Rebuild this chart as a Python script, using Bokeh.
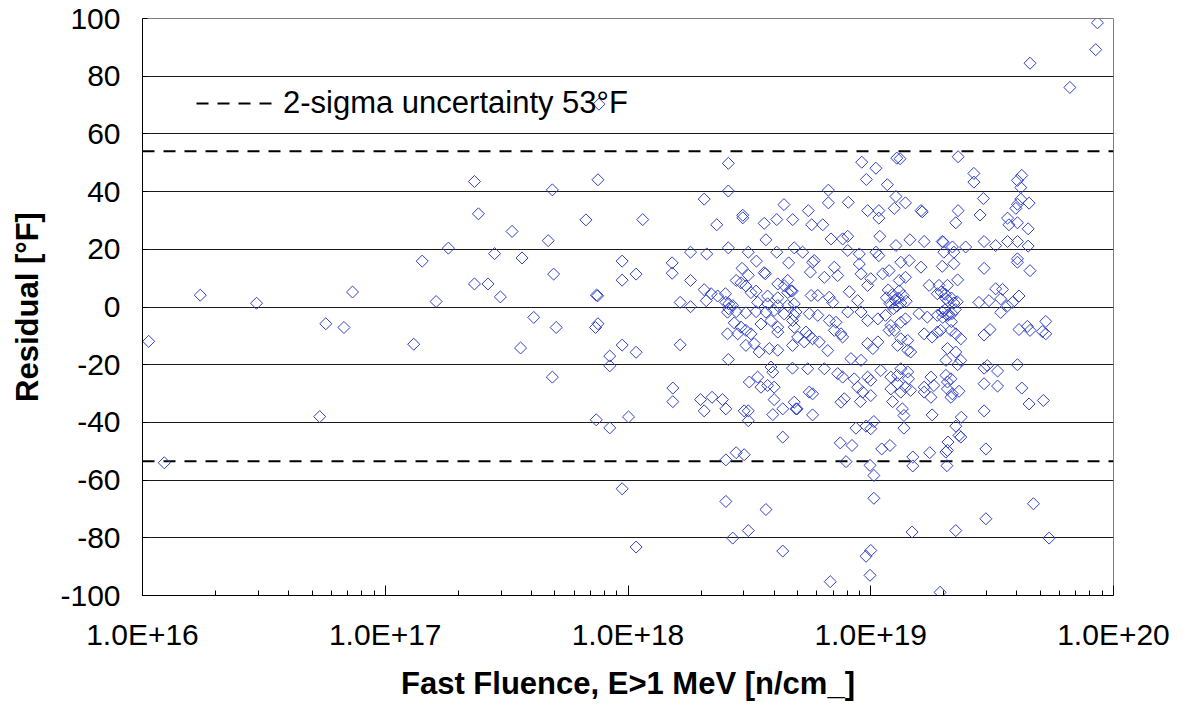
from bokeh.plotting import figure
from bokeh.models import (FixedTicker, CustomJSTickFormatter, Legend, LegendItem,
                          Range1d, ColumnDataSource)
from bokeh.embed import file_html
from bokeh.resources import INLINE

# ---- data: (fast fluence in units of 1e18 n/cm^2, residual in deg F) ----
low_fluence = [
    (0.0106, -11.9), (0.0123, -54.0), (0.0173, 4.1), (0.0295, 1.3), (0.0733, 5.2),
    (0.0569, -5.8), (0.0676, -7.1), (0.0537, -38.0),
    (0.759, 70.3), (0.233, 43.5), (0.488, 40.6), (0.752, 44.1), (0.242, 32.3),
    (0.333, 26.2), (0.469, 23.0), (0.671, 30.2), (0.182, 20.4), (0.142, 15.9),
    (0.282, 18.5), (0.366, 17.0), (0.946, 15.9), (0.494, 11.4), (0.946, 9.3),
    (0.233, 8.0), (0.265, 8.0), (0.162, 1.9), (0.298, 3.5), (0.741, 4.1),
    (0.75, 3.9), (0.131, -12.9), (0.409, -3.6), (0.506, -7.1), (0.735, -7.1),
    (0.752, -5.8), (0.361, -14.2), (0.946, -13.2), (0.841, -17.0), (0.841, -20.4),
    (0.488, -24.3), (0.74, -39.1), (0.841, -41.9), (0.946, -63.0),
]

mid_fluence = [
    (1.005, -38.1), (1.08, 11.4), (1.08, -15.7), (1.08, -83.2), (1.15, 30.3),
    (2.59, 49.8), (2.59, 40.2), (2.06, 37.4), (4.39, 35.5), (2.97, 31.8),
    (2.32, 28.5), (2.97, 30.9), (3.64, 29.0), (4.10, 30.3), (4.77, 30.3),
    (3.7, 23.3), (1.81, 19.0), (2.11, 18.4), (2.59, 20.5), (3.13, 19.0),
    (3.38, 15.9), (4.10, 19.0), (4.84, 20.5), (1.52, 15.3), (1.52, 11.7),
    (1.81, 9.2), (4.59, 15.3), (2.95, 13.4), (3.64, 11.9), (3.68, 11.5),
    (3.13, 11.0), (2.79, 9.2), (4.14, 8.0), (4.55, 9.2), (4.4, 7.4),
    (4.69, 5.6), (2.06, 6.0), (2.2, 4.6), (2.34, 3.8), (2.52, 4.6),
    (1.64, 1.6), (1.81, 0.1), (2.1, 2.2), (2.53, 1.6), (2.6, 1.1),
    (2.6, -0.6), (2.7, 0.5), (2.92, 8.4), (3.06, 7.3), (3.21, 5.0),
    (3.37, 5.5), (3.76, 3.8), (4.14, 3.2), (4.55, 5.0), (4.75, 5.5),
    (3.42, 1.6), (3.76, 1.1), (4.14, 0.5), (4.55, 0.5), (4.84, 1.1),
    (2.79, -1.6), (3.06, -2.0), (3.37, -1.6), (2.57, -1.8), (3.7, -1.8),
    (4.0, -1.2), (4.4, -2.4), (4.84, -2.9), (2.74, -5.5), (2.92, -7.0),
    (3.06, -8.1), (3.21, -9.3), (2.83, -9.3), (3.53, -5.9), (3.88, -4.7),
    (4.14, -7.0), (4.14, -8.7), (4.76, -4.7), (2.57, -9.3), (1.64, -13.1),
    (3.06, -13.3), (3.31, -12.7), (3.47, -15.6), (3.82, -14.4), (4.14, -15.0),
    (4.76, -13.3), (2.59, -18.2), (3.88, -20.8), (4.76, -21.2), (1.53, -28.1),
    (3.16, -26.0), (3.42, -24.3), (3.53, -27.8), (3.76, -27.2), (3.95, -22.6),
    (4.0, -27.8), (4.84, -33.0),
    (1.53, -32.8), (1.99, -32.1), (2.22, -31.3), (2.45, -32.1), (2.06, -36.0),
    (2.53, -35.3), (3.01, -36.0), (3.13, -36.0), (3.13, -39.4), (3.95, -37.3),
    (4.34, -35.3), (4.92, -35.3), (4.0, -32.1), (4.34, -45.1), (2.79, -50.5),
    (3.01, -51.2), (2.53, -53.0), (2.53, -67.4), (3.7, -70.2), (3.13, -77.5),
    (2.70, -80.1), (4.34, -84.6),
    (9.18, 50.2), (9.59, 44.2), (6.69, 40.5), (6.69, 36.1), (8.08, 36.3),
    (5.53, 33.4), (9.71, 33.4),
    (5.71, 28.5), (6.34, 28.5), (6.86, 23.6), (7.66, 23.6), (8.04, 24.5),
    (5.24, 19.0), (8.04, 19.6), (8.97, 18.4), (5.85, 16.1), (5.76, 15.5),
    (8.97, 14.9), (7.08, 13.8), (6.44, 10.3), (7.31, 10.9), (5.64, 12.1),
    (9.12, 11.5), (9.71, 7.5), (5.68, 4.0), (6.05, 4.0), (6.75, 3.4),
    (6.97, 1.6), (8.16, 5.3), (8.83, 2.2), (4.92, -1.7), (5.58, -2.3),
    (6.05, -2.9), (6.75, -4.7), (7.19, -5.3), (8.04, -1.7), (9.12, -1.7),
    (9.71, -4.7), (4.84, -7.0), (5.41, -8.7), (5.58, -9.9), (5.76, -11.0),
    (7.08, -8.1), (7.54, -9.3), (7.66, -10.4), (5.0, -10.4), (5.32, -12.1),
    (6.14, -12.1), (6.65, -15.1), (9.71, -12.7), (5.5, -21.4), (6.44, -21.4),
    (7.31, -23.1), (7.66, -24.3), (8.29, -17.9), (9.12, -18.5), (8.55, -24.9),
    (9.71, -24.3), (5.58, -29.5), (5.76, -30.1), (7.78, -31.8), (7.54, -33.0),
    (8.83, -27.8), (9.27, -29.5),
    (4.97, -35.3), (5.76, -37.4), (9.06, -32.8), (8.69, -42.0), (9.56, -41.3),
    (7.49, -47.1), (8.37, -48.0), (7.91, -53.6), (9.93, -54.9), (9.56, -86.4),
    (9.93, -93.0), (6.81, -95.2),
]

high_fluence = [
    (10.5, 48.1), (12.8, 51.6), (13.2, 51.4), (11.7, 42.4), (12.7, 38.3),
    (13.9, 36.1), (10.8, 33.4), (12.5, 34.2), (16.1, 33.4), (16.3, 33.0),
    (10.8, 30.8), (10.9, 24.5), (14.5, 23.3), (16.6, 22.7), (19.7, 22.7),
    (10.5, 19.0), (10.8, 17.8), (12.7, 21.3), (20.0, 19.0), (13.3, 15.5),
    (14.4, 16.1), (16.1, 13.8), (19.7, 14.1), (10.0, 9.8), (11.2, 11.5),
    (11.9, 12.6), (13.1, 9.2), (13.9, 10.3), (17.4, 7.5), (19.1, 7.5),
    (18.8, 4.6), (20.4, 2.9), (10.7, -4.1), (11.5, -2.9), (12.1, -6.4),
    (12.5, -8.1), (13.3, -5.3), (13.9, -4.1), (15.8, -2.3), (17.1, -3.5),
    (18.8, -2.9), (19.7, -1.7), (20.7, -2.9), (10.2, -14.4), (10.7, -12.1),
    (11.9, -8.1), (13.3, -11.0), (14.2, -11.6), (12.9, -13.3), (14.2, -15.0),
    (14.6, -15.6), (16.6, -9.3), (17.9, -10.4), (18.8, -8.7), (10.0, -25.4),
    (11.0, -22.0), (12.1, -24.3), (12.9, -23.7), (13.3, -21.4), (14.2, -22.5),
    (14.3, -24.9), (12.9, -26.6), (13.9, -27.8), (16.6, -27.8), (17.7, -24.3),
    (18.2, -27.2), (20.7, -26.0), (10.0, -30.7), (12.1, -28.4), (13.3, -29.5),
    (14.6, -28.9), (17.7, -31.3), (16.6, -29.5),
    (11.6, 3.2), (12.0, 1.2), (12.3, 4.4), (12.6, 2.4), (12.8, 0.3),
    (13.0, 3.1), (13.3, 1.4), (13.6, 4.0), (14.0, 2.0), (12.4, -0.6),
    (13.1, 5.6), (11.8, 5.9),
    (12.3, -32.8), (13.5, -35.3), (13.7, -37.6), (17.9, -37.4), (10.0, -42.2),
    (10.3, -39.7), (13.7, -42.0), (11.1, -49.2), (12.0, -48.0), (10.3, -58.4),
    (14.9, -52.0), (14.9, -55.1), (17.5, -50.5), (20.6, -55.0), (10.3, -66.3),
    (14.8, -78.0), (10.0, -84.4), (19.3, -98.9),
    (85.9, 98.5), (84.5, 89.2), (45.3, 84.5), (66.1, 76.1), (22.9, 52.1),
    (26.6, 46.3), (26.6, 43.3), (41.9, 45.6), (40.2, 43.9), (41.5, 41.4),
    (29.1, 37.6), (41.5, 37.4), (40.2, 35.6), (44.9, 36.0), (39.6, 34.2),
    (22.9, 33.4), (28.2, 31.9),
    (22.4, 29.2), (36.6, 30.8), (37.1, 28.5), (40.2, 29.2), (44.5, 27.1),
    (19.9, 22.5), (21.7, 20.8), (24.6, 20.8), (29.3, 22.7), (32.7, 21.3),
    (36.6, 22.7), (40.2, 22.7), (44.5, 21.1), (22.0, 19.0), (22.0, 15.0),
    (40.2, 16.7), (40.2, 15.5), (45.3, 12.6), (29.3, 13.4), (22.8, 9.4),
    (20.7, 7.5), (32.7, 6.3), (34.9, 6.1), (40.8, 3.8), (27.9, 1.6),
    (30.7, 2.2), (34.3, 2.8), (38.4, 1.6), (36.6, 0.4), (34.3, -1.9),
    (52.6, -5.0), (50.9, -8.5), (52.6, -9.3), (40.8, -7.8), (44.2, -6.7),
    (45.3, -8.1), (29.3, -9.7), (31.0, -7.8), (19.4, -8.1), (21.4, -8.1),
    (22.4, -9.3), (23.5, -11.0), (20.7, -14.4), (22.4, -15.6), (23.5, -18.5),
    (20.4, -18.5), (22.8, -20.0), (29.3, -21.2), (30.2, -20.3), (33.3, -22.2),
    (40.2, -20.0), (20.4, -23.7), (21.4, -24.9), (29.3, -26.6), (33.3, -27.4),
    (41.9, -28.1), (20.7, -28.4), (21.7, -30.1), (23.1, -29.2), (44.9, -33.6),
    (51.4, -32.4),
    (19.5, 5.2), (20.3, 4.4), (20.8, 2.2), (21.5, 3.1), (22.0, 1.4),
    (22.7, 1.8), (20.2, -1.0), (21.0, -2.6), (21.6, -2.3), (22.3, -0.9),
    (19.8, -3.6), (21.5, -5.1),
    (21.4, -31.3), (29.3, -36.0), (23.6, -38.2), (22.4, -41.3), (23.5, -45.1),
    (23.1, -44.5), (20.8, -46.8), (20.4, -50.3), (20.7, -49.7), (29.8, -49.2),
    (46.8, -68.2), (29.8, -73.4), (22.4, -77.5), (54.3, -80.1),
]

sigma_limits = [54.0, -53.5]          # 2-sigma band, deg F
legend_text = "2-sigma uncertainty 53\u00b0F"

x_ticks = [1e16, 1e17, 1e18, 1e19, 1e20]
x_tick_labels = ["1.0E+16", "1.0E+17", "1.0E+18", "1.0E+19", "1.0E+20"]
y_ticks = [-100, -80, -60, -40, -20, 0, 20, 40, 60, 80, 100]

x_title = "Fast Fluence, E>1 MeV [n/cm_]"
y_title = "Residual [\u00b0F]"

# ---- build ----
all_pts = low_fluence + mid_fluence + high_fluence
src = ColumnDataSource(dict(
    fluence=[f * 1e18 for f, r in all_pts],
    residual=[r for f, r in all_pts],
))

FONT = "Liberation Sans"

p = figure(width=1183, height=710, x_axis_type="log",
           x_range=Range1d(x_ticks[0], x_ticks[-1]),
           y_range=Range1d(y_ticks[0], y_ticks[-1]),
           output_backend="svg", toolbar_location=None,
           min_border_left=142, min_border_right=70,
           min_border_top=18, min_border_bottom=115)

p.background_fill_color = "white"
p.border_fill_color = "white"
p.outline_line_color = "#808080"
p.outline_line_width = 1

# grid
p.xgrid.visible = False
p.ygrid.ticker = FixedTicker(ticks=y_ticks)
p.ygrid.grid_line_color = "#1a1a1a"
p.ygrid.grid_line_width = 1

# dashed 2-sigma lines
seg = p.segment(x0=[x_ticks[0]] * len(sigma_limits), x1=[x_ticks[-1]] * len(sigma_limits),
                y0=sigma_limits, y1=sigma_limits,
                line_color="black", line_width=2, line_dash="12 9")

# scatter
p.scatter("fluence", "residual", source=src, marker="square", angle=45,
          angle_units="deg", size=8.5, fill_color=None,
          line_color="#2f3fc8", line_width=1)

# x axis
minor = [float(m) * 10.0 ** e for e in range(16, 20) for m in range(2, 10)]
p.xaxis.ticker = FixedTicker(ticks=x_ticks, minor_ticks=minor)
p.xaxis.formatter = CustomJSTickFormatter(
    args=dict(xt=x_ticks, lbl=x_tick_labels),
    code="""
const i = xt.findIndex(t => Math.abs(Math.log10(t) - Math.log10(tick)) < 1e-6);
return i >= 0 ? lbl[i] : "";
""")
p.xaxis.major_tick_in = 10
p.xaxis.major_tick_out = 0
p.xaxis.minor_tick_in = 5
p.xaxis.minor_tick_out = 0
p.xaxis.axis_label = x_title

# y axis
p.yaxis.ticker = FixedTicker(ticks=y_ticks)
p.yaxis.formatter = CustomJSTickFormatter(code="return tick.toFixed(0);")
p.yaxis.major_tick_in = 5
p.yaxis.major_tick_out = 0
p.yaxis.minor_tick_line_color = None
p.yaxis.axis_label = y_title

for ax in (p.xaxis, p.yaxis):
    ax.axis_line_color = "black"
    ax.axis_line_width = 1
    ax.major_tick_line_color = "black"
    ax.major_label_text_font = FONT
    ax.major_label_text_font_size = "30px"
    ax.major_label_text_color = "black"
    ax.axis_label_text_font = FONT
    ax.axis_label_text_font_size = "31px"
    ax.axis_label_text_font_style = "bold"
    ax.axis_label_text_color = "black"
p.xaxis.minor_tick_line_color = "black"

p.xaxis.major_label_standoff = 22
p.xaxis.axis_label_standoff = 12
p.yaxis.major_label_standoff = 22
p.yaxis.axis_label_standoff = 12

legend = Legend(items=[LegendItem(label=legend_text, renderers=[seg], index=0)],
                location=(54, 474), padding=0, margin=0, spacing=0,
                border_line_alpha=0, background_fill_alpha=0,
                glyph_width=76, glyph_height=30, label_standoff=11,
                label_text_font=FONT, label_text_font_size="31px",
                label_text_color="black")
p.add_layout(legend)

open("out.html", "w").write(file_html(p, INLINE))
